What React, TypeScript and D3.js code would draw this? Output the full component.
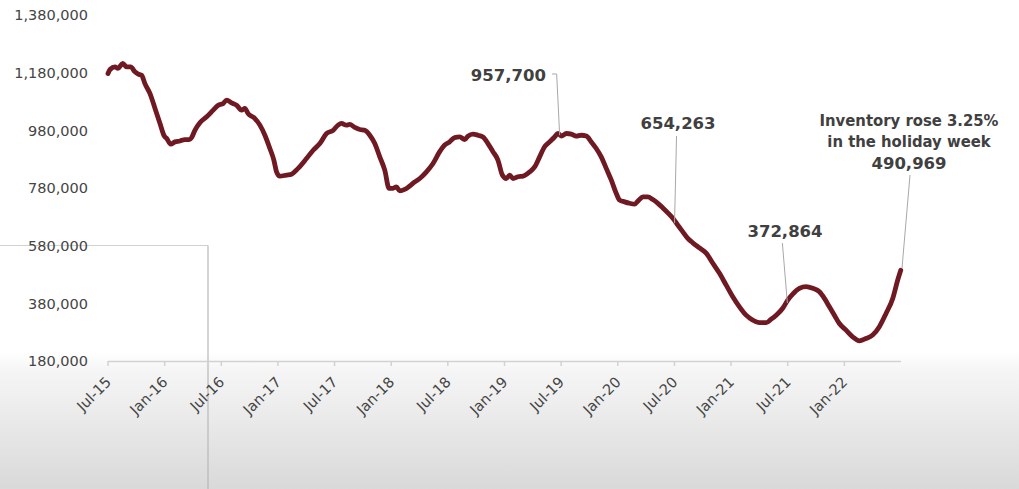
import React from "react";
import * as d3 from "d3";

// time in decimal years, inventory values
const times: number[] = [
  2015.500, 2015.518, 2015.562, 2015.588, 2015.630, 2015.665, 2015.700, 2015.738, 2015.767, 2015.797,
  2015.826, 2015.870, 2015.915, 2015.959, 2015.997, 2016.018, 2016.053, 2016.091, 2016.135, 2016.179,
  2016.217, 2016.238, 2016.267, 2016.311, 2016.371, 2016.429, 2016.473, 2016.517, 2016.547, 2016.591,
  2016.635, 2016.679, 2016.708, 2016.737, 2016.797, 2016.841, 2016.885, 2016.929, 2016.964, 2016.988,
  2017.017, 2017.076, 2017.120, 2017.178, 2017.252, 2017.311, 2017.370, 2017.429, 2017.487, 2017.531,
  2017.561, 2017.605, 2017.634, 2017.678, 2017.723, 2017.767, 2017.811, 2017.855, 2017.899, 2017.943,
  2017.981, 2018.016, 2018.046, 2018.075, 2018.119, 2018.164, 2018.208, 2018.252, 2018.311, 2018.369,
  2018.428, 2018.472, 2018.516, 2018.560, 2018.605, 2018.649, 2018.678, 2018.722, 2018.766, 2018.810,
  2018.854, 2018.898, 2018.942, 2018.981, 2019.016, 2019.046, 2019.075, 2019.119, 2019.163, 2019.222,
  2019.266, 2019.310, 2019.354, 2019.398, 2019.442, 2019.472, 2019.501, 2019.546, 2019.590, 2019.634,
  2019.678, 2019.722, 2019.766, 2019.810, 2019.854, 2019.898, 2019.943, 2019.987, 2020.016, 2020.060,
  2020.104, 2020.148, 2020.186, 2020.221, 2020.265, 2020.309, 2020.354, 2020.398, 2020.442, 2020.486,
  2020.530, 2020.574, 2020.618, 2020.662, 2020.721, 2020.780, 2020.839, 2020.898, 2020.957, 2021.015,
  2021.074, 2021.133, 2021.191, 2021.250, 2021.310, 2021.354, 2021.398, 2021.456, 2021.500, 2021.544,
  2021.603, 2021.662, 2021.721, 2021.780, 2021.824, 2021.868, 2021.912, 2021.956, 2022.015, 2022.073,
  2022.132, 2022.191, 2022.250, 2022.309, 2022.368, 2022.427, 2022.471, 2022.498,
];

const inventory: number[] = [
  1177000, 1191000, 1200000, 1195000, 1212000, 1200000, 1200000, 1183000, 1175000, 1171000,
  1142000, 1108000, 1056000, 1004000, 960000, 952000, 932000, 940000, 943000, 948000,
  948000, 955000, 980000, 1006000, 1027000, 1050000, 1067000, 1073000, 1085000, 1075000,
  1067000, 1050000, 1056000, 1038000, 1021000, 998000, 963000, 917000, 877000, 836000,
  821000, 825000, 828000, 848000, 882000, 911000, 934000, 969000, 980000, 998000,
  1004000, 998000, 1001000, 990000, 983000, 980000, 963000, 934000, 888000, 842000,
  779000, 779000, 784000, 770000, 775000, 787000, 801000, 813000, 836000, 865000,
  906000, 929000, 940000, 955000, 957000, 948000, 960000, 967000, 963000, 957000,
  934000, 906000, 877000, 825000, 813000, 825000, 813000, 819000, 821000, 836000,
  853000, 888000, 923000, 940000, 957000, 969000, 960000, 969000, 967000, 960000,
  963000, 960000, 940000, 917000, 888000, 848000, 807000, 761000, 738000, 732000,
  727000, 724000, 738000, 749000, 749000, 740000, 727000, 711000, 694000, 675000,
  651000, 628000, 605000, 590000, 572000, 554000, 519000, 484000, 443000, 403000,
  368000, 339000, 322000, 313000, 313000, 325000, 339000, 363000, 391000, 412000,
  432000, 438000, 432000, 420000, 397000, 368000, 339000, 310000, 287000, 264000,
  250000, 258000, 270000, 299000, 345000, 397000, 461000, 495000,
];

const yTicks: number[] = [180000, 380000, 580000, 780000, 980000, 1180000, 1380000];
const xTickTimes: number[] = [2015.5, 2016, 2016.5, 2017, 2017.5, 2018, 2018.5, 2019, 2019.5, 2020, 2020.5, 2021, 2021.5, 2022];
const xTickLabels: string[] = ["Jul-15", "Jan-16", "Jul-16", "Jan-17", "Jul-17", "Jan-18", "Jul-18", "Jan-19", "Jul-19", "Jan-20", "Jul-20", "Jan-21", "Jul-21", "Jan-22"];

const annoLabels: string[][] = [["957,700"], ["654,263"], ["372,864"], ["Inventory rose 3.25%", "in the holiday week", "490,969"]];
const annoTimes: number[] = [2019.487, 2020.501, 2021.497, 2022.5];
const annoValues: number[] = [963000, 658000, 381000, 502000];

const W = 1019;
const H = 489;
const FONT = "'DejaVu Sans', sans-serif";
const NARROW = "'DejaVu Sans Condensed', Roboto, sans-serif";

export default function App() {
  const x = d3.scaleLinear().domain([2015.5, 2022.5]).range([108, 901]);
  const y = d3.scaleLinear().domain([180000, 1380000]).range([361, 15]);
  const pts: [number, number][] = times.map((t, i) => [t, inventory[i]]);
  const line = d3
    .line<[number, number]>()
    .x((d) => x(d[0]))
    .y((d) => y(d[1]))
    .curve(d3.curveMonotoneX);
  const path = line(pts) || "";

  const textFill = "#404040";
  const leader = "#a8a8a8";

  const a0 = { px: x(annoTimes[0]), py: y(annoValues[0]) };
  const a1 = { px: x(annoTimes[1]), py: y(annoValues[1]) };
  const a2 = { px: x(annoTimes[2]), py: y(annoValues[2]) };
  const a3 = { px: x(annoTimes[3]), py: y(annoValues[3]) };

  return (
    <svg
      width={W}
      height={H}
      style={{ position: "absolute", left: 0, top: 0, display: "block" }}
      fontFamily={FONT}
    >
      <defs>
        <linearGradient id="bg" x1="0" y1="0" x2="0" y2="1">
          <stop offset="0" stopColor="#ffffff" />
          <stop offset="0.12" stopColor="#f6f6f6" />
          <stop offset="1" stopColor="#d9d9d9" />
        </linearGradient>
      </defs>
      <rect x={0} y={0} width={W} height={H} fill="#ffffff" />
      <rect x={0} y={352} width={W} height={H - 352} fill="url(#bg)" />

      {/* overlay guide lines */}
      <line x1={0} y1={245.5} x2={208} y2={245.5} stroke="#d2d2d2" strokeWidth={1} />
      <line x1={208} y1={245.5} x2={208} y2={H} stroke="#b8b8b8" strokeWidth={1.2} />

      {/* y tick labels */}
      {yTicks.map((v) => (
        <text
          key={v}
          x={88}
          y={y(v)}
          dy="0.36em"
          textAnchor="end"
          fontSize={14.5}
          fill="#454545"
        >
          {d3.format(",")(v)}
        </text>
      ))}

      {/* x axis */}
      <line x1={x(2015.5)} y1={361.5} x2={x(2022.5)} y2={361.5} stroke="#d2d2d2" strokeWidth={1.5} />
      {xTickTimes.map((t, i) => (
        <g key={t}>
          <line x1={x(t)} y1={361} x2={x(t)} y2={366} stroke="#d2d2d2" strokeWidth={1.5} />
          <text
            transform={`translate(${x(t) + 4},${383}) rotate(-45)`}
            textAnchor="end"
            fontSize={14.5}
            fill="#454545"
          >
            {xTickLabels[i]}
          </text>
        </g>
      ))}

      {/* data line */}
      <path d={path} fill="none" stroke="#6f1a23" strokeWidth={4.8} strokeLinejoin="round" strokeLinecap="round" />

      {/* annotations */}
      <g fill={textFill} fontWeight="bold" fontSize={16.5}>
        <text x={546} y={75} dy="0.36em" textAnchor="end">{annoLabels[0][0]}</text>
        <polyline
          points={`552,74 ${a0.px - 3},74 ${a0.px},${a0.py}`}
          fill="none"
          stroke={leader}
          strokeWidth={1}
        />

        <text x={678} y={123} dy="0.36em" textAnchor="middle">{annoLabels[1][0]}</text>
        <line x1={a1.px + 2} y1={136} x2={a1.px} y2={a1.py} stroke={leader} strokeWidth={1} />

        <text x={785} y={231} dy="0.36em" textAnchor="middle">{annoLabels[2][0]}</text>
        <line x1={a2.px - 5} y1={243} x2={a2.px} y2={a2.py} stroke={leader} strokeWidth={1} />

        {annoLabels[3].map((s, i) => (
          <text
            key={s}
            x={909}
            y={120 + i * 21.5}
            dy="0.36em"
            textAnchor="middle"
            fontFamily={i < 2 ? NARROW : FONT}
            fontSize={i < 2 ? 16.5 : 16.5}
          >
            {s}
          </text>
        ))}
        <line x1={910} y1={175} x2={a3.px + 1} y2={a3.py} stroke={leader} strokeWidth={1} />
      </g>
    </svg>
  );
}
